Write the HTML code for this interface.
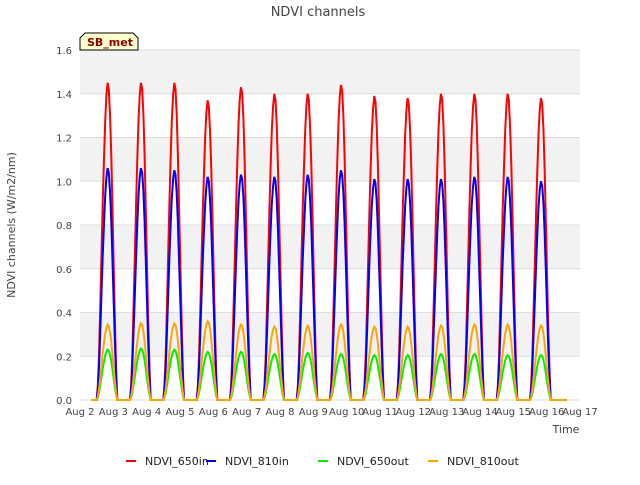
<!DOCTYPE html>
<html><head><meta charset="utf-8"><style>
body{margin:0;background:#fff;font-family:"Liberation Sans","DejaVu Sans",sans-serif}
svg text{font-family:"DejaVu Sans","Liberation Sans",sans-serif}
</style></head><body>
<svg id="c" width="640" height="480">
<text x="318" y="16" text-anchor="middle" font-size="13" fill="#444">NDVI channels</text>
<g id="bands"></g><g id="grid"></g><g id="series"></g><g id="axes"></g>
<g>
<path d="M80,50 L80,38 L85,33 L133,33 L138,38 L138,50 Z" fill="#ffffcc" stroke="#000"/>
<text x="87" y="46" font-size="11" font-weight="bold" fill="#8b0000">SB_met</text></g>
<text x="15" y="225" transform="rotate(-90 15 225)" text-anchor="middle" font-size="11" fill="#444">NDVI channels (W/m2/nm)</text>
<text x="566" y="433" text-anchor="middle" font-size="11" fill="#444">Time</text>
<g id="legend"></g>
</svg>
<script>
const xTicks=["Aug 2","Aug 3","Aug 4","Aug 5","Aug 6","Aug 7","Aug 8","Aug 9","Aug 10","Aug 11","Aug 12","Aug 13","Aug 14","Aug 15","Aug 16","Aug 17"];
const yTicks=[0,0.2,0.4,0.6,0.8,1.0,1.2,1.4,1.6];
const seriesNames=["NDVI_650in","NDVI_810in","NDVI_650out","NDVI_810out"];
const seriesColors=["#ff0000","#0000ff","#00ee00","#ffa500"];
const red=[1.45,1.45,1.45,1.37,1.43,1.40,1.40,1.44,1.39,1.38,1.40,1.40,1.40,1.38];
const blue=[1.06,1.06,1.05,1.02,1.03,1.02,1.03,1.05,1.01,1.01,1.01,1.02,1.02,1.00];
const green=[0.23,0.235,0.23,0.22,0.22,0.21,0.215,0.21,0.205,0.205,0.21,0.21,0.205,0.205];
const orange=[0.345,0.35,0.35,0.36,0.345,0.335,0.34,0.345,0.335,0.335,0.34,0.345,0.345,0.34];
const dayProfile=[0,0.05,0.15,0.3,0.46,0.62,0.76,0.88,0.96,1,0.98,0.9,0.77,0.6,0.42,0.25,0.1,0];
const profileStart=0.5, profileEnd=1.12;
const L=80,R=580,T=50,B=400,yMax=1.6,days=15;
const xs=d=>L+(R-L)*d/days, ys=v=>B-(B-T)*v/yMax;
const NS="http://www.w3.org/2000/svg";
function mk(p,t,a){const e=document.createElementNS(NS,t);for(const k in a)e.setAttribute(k,a[k]);p.appendChild(e);return e;}
const bands=document.getElementById('bands'),grid=document.getElementById('grid'),axes=document.getElementById('axes'),ser=document.getElementById('series'),leg=document.getElementById('legend');
for(let i=0;i<yTicks.length-1;i++){if(i%2==1){const r=mk(bands,'rect',{x:L,y:ys(yTicks[i+1]),width:R-L,height:ys(yTicks[i])-ys(yTicks[i+1]),fill:'#f2f2f2'});

}}
yTicks.forEach(v=>{const l=mk(grid,'line',{x1:L,x2:R,y1:ys(v),y2:ys(v),stroke:'#ddd'});


const t=mk(axes,'text',{x:L-8,y:ys(v)+4,'text-anchor':'end','font-size':10,fill:'#444'});t.textContent=v.toFixed(1);

});
xTicks.forEach((s,i)=>{const t=mk(axes,'text',{x:xs(i),y:415,'text-anchor':'middle','font-size':10,fill:'#444'});t.textContent=s;

});
[red,blue,green,orange].forEach((arr,si)=>{
 let pts=[[xs(0.35),ys(0)]];
 arr.forEach((pk,d)=>{dayProfile.forEach((p,j)=>{const t=d+profileStart+(profileEnd-profileStart)*j/(dayProfile.length-1);pts.push([xs(t),ys(pk*p)]);});});
 pts.push([xs(14.6),ys(0)]);
 const pl=mk(ser,'polyline',{points:pts.map(p=>p[0].toFixed(1)+','+p[1].toFixed(1)).join(' '),fill:'none',stroke:seriesColors[si],'stroke-width':2});
 
 
});
const lx=[126,206,318,428];
seriesNames.forEach((n,i)=>{const g=mk(leg,'g',{});


mk(g,'line',{x1:lx[i],x2:lx[i]+10,y1:461,y2:461,stroke:seriesColors[i],'stroke-width':2});
const t=mk(g,'text',{x:lx[i]+19,y:465,'font-size':11,fill:'#222'});t.textContent=n;});
</script>
</body></html>
